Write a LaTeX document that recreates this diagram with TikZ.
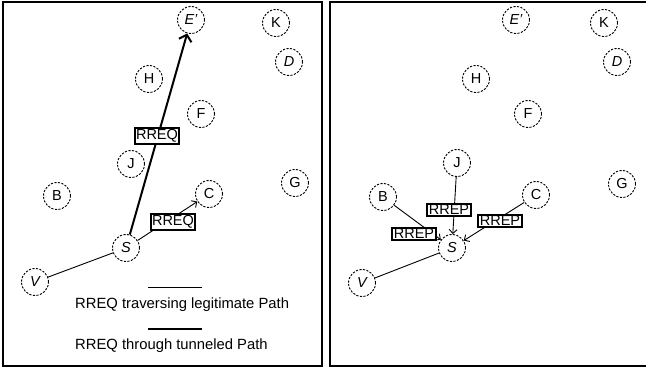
\documentclass[tikz,border=0pt]{standalone}
\usepackage{fontspec}
\setmainfont{Liberation Sans}
\usetikzlibrary{arrows.meta}
\begin{document}
\begin{tikzpicture}[x=1pt,y=-1pt,
  host/.style={circle,draw,dash pattern=on 2.2pt off 1.4pt,line width=0.9pt,minimum size=27pt,inner sep=0pt,font=\fontsize{14.5}{14.5}\selectfont},
  msg/.style={draw,line width=2pt,fill=white,inner xsep=1.5pt,inner ysep=1.2pt,font=\fontsize{14.5}{14.5}\selectfont},
  thinlink/.style={line width=0.9pt},
  thicklink/.style={line width=2pt},
  frame/.style={line width=2.5pt},
  legend/.style={font=\fontsize{14.8}{14.8}\selectfont,anchor=west,inner sep=0pt}]
\useasboundingbox (0,0) rectangle (646,374);
% frames
\draw[frame] (3,2) rectangle (322,366);
\draw[frame] (330,2) rectangle (652,366);
% ---------- left panel ----------
\node[host] (lE) at (191,20) {\itshape E'};
\node[host] (lK) at (276,23) {K};
\node[host] (lD) at (289,62) {\itshape D};
\node[host] (lH) at (149,79) {H};
\node[host] (lF) at (201,114) {F};
\node[host] (lJ) at (131,164) {J};
\node[host] (lG) at (295,183) {G};
\node[host] (lB) at (57,196) {B};
\node[host] (lC) at (209,194) {C};
\node[host] (lS) at (126,248) {\itshape S};
\node[host] (lV) at (35,282) {\itshape V};
\draw[thicklink,-{Straight Barb[length=6pt,width=13pt,line width=2pt]}] (lS) -- (lE);
\draw[thinlink,-{Straight Barb[length=4pt,width=8pt]}] (lS) -- (lC);
\draw[thinlink] (lV) -- (lS);
\node[msg] (lq1) at (157,136) {RREQ};
\node[msg] (lq2) at (173,222) {RREQ};
% legend
\coordinate (la1) at (148,287); \coordinate (la2) at (202,287);
\coordinate (lb1) at (148,329); \coordinate (lb2) at (202,329);
\draw[thinlink] (la1) -- (la2);
\draw[thicklink] (lb1) -- (lb2);
\node[legend] (lt1) at (75,305) {RREQ traversing legitimate Path};
\node[legend] (lt2) at (75,346) {RREQ through tunneled Path};
% ---------- right panel ----------
\node[host] (rE) at (516,20) {\itshape E'};
\node[host] (rK) at (604,23) {K};
\node[host] (rD) at (617,62) {\itshape D};
\node[host] (rH) at (476,79) {H};
\node[host] (rF) at (528,114) {F};
\node[host] (rJ) at (457,163) {J};
\node[host] (rG) at (622,184) {G};
\node[host] (rB) at (383,197) {B};
\node[host] (rC) at (536,195) {C};
\node[host] (rS) at (452,248) {\itshape S};
\node[host] (rV) at (362,283) {\itshape V};
\draw[thinlink,-{Straight Barb[length=4pt,width=8pt]}] (rJ) -- (rS);
\draw[thinlink,-{Straight Barb[length=4pt,width=8pt]}] (rB) -- (rS);
\draw[thinlink,-{Straight Barb[length=4pt,width=8pt]}] (rC) -- (rS);
\draw[thinlink] (rV) -- (rS);
\node[msg] (rp1) at (449,210) {RREP};
\node[msg] (rp2) at (500,221) {RREP};
\node[msg] (rp3) at (414,234) {RREP};
\end{tikzpicture}
\end{document}
